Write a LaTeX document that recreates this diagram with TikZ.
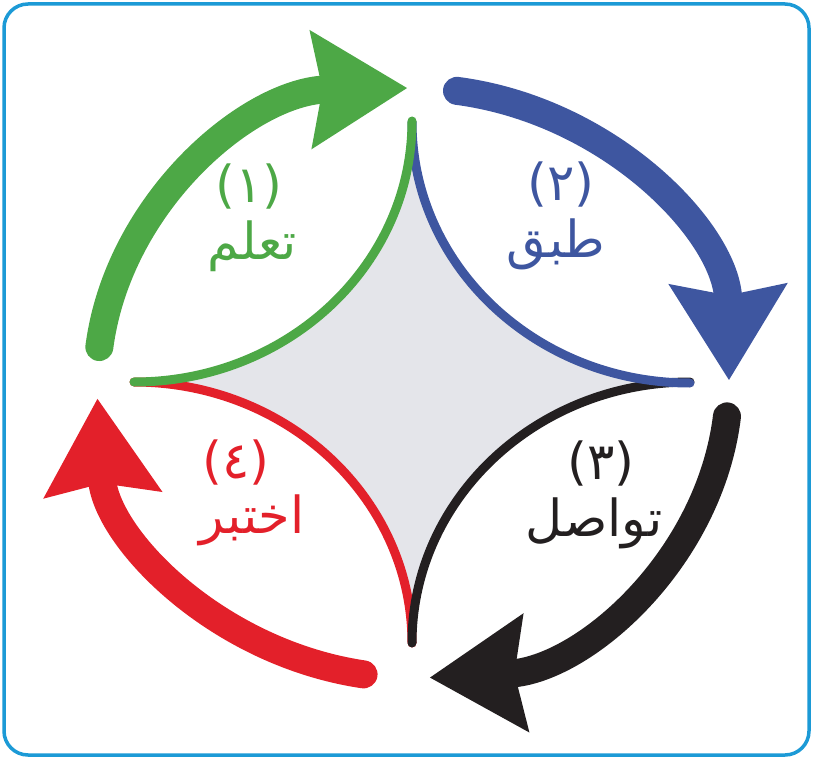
\documentclass[tikz,border=0pt]{standalone}
\usepackage{fontspec}
\newfontfamily\arabicfont[Script=Arabic]{DejaVu Sans}
\TeXXeTstate=1
\usepackage{tikz}
\usetikzlibrary{arrows.meta}
\definecolor{cgreen}{HTML}{4DA846}
\definecolor{cblue}{HTML}{3E56A0}
\definecolor{cblack}{HTML}{231F20}
\definecolor{cred}{HTML}{E3202A}
\definecolor{cframe}{HTML}{1C9AD6}
\definecolor{cpale}{HTML}{E4E5EA}

\begin{document}
\begin{tikzpicture}[x=1pt, y=-1pt,
    bigarrow/.style={line width=28pt, line cap=round, -{Stealth[length=95pt, width=114pt, inset=10pt]}},
    petal/.style={line width=9pt, line cap=round},
    steplabel/.style={inner sep=0pt, font=\arabicfont\fontsize{51}{58}\selectfont}]
  \useasboundingbox (0,0) rectangle (813,759);

  % Frame
  \draw[cframe, line width=3.5pt, rounded corners=24pt] (4,4) rectangle (809,755);

  % Grey star in the middle
  \fill[cpale] (412,122) arc[start angle=180, end angle=90, x radius=278, y radius=261]
    arc[start angle=270, end angle=180, x radius=278, y radius=261]
    arc[start angle=0, end angle=-90, x radius=278, y radius=261]
    arc[start angle=90, end angle=0, x radius=278, y radius=261] -- cycle;

  % Thin edges of the star
  \draw[petal, cred] (412,643) arc[start angle=0, end angle=-90, x radius=278, y radius=261];
  \draw[petal, cblack] (690,382) arc[start angle=270, end angle=180, x radius=278, y radius=261];
  \draw[petal, cblue] (412,122) arc[start angle=180, end angle=90, x radius=278, y radius=261];
  \draw[petal, cgreen] (134,382) arc[start angle=90, end angle=0, x radius=278, y radius=261];

  % Big arrows round the cycle
  \coordinate (ctr) at (413,383);
  \foreach \col/\a/\b in {cgreen/187/269, cblue/278/359.5, cblack/6.5/87, cred/99/177}{
    \draw[bigarrow, \col] (ctr) ++(\a:316 and 295)
      arc[start angle=\a, end angle=\b, x radius=316, y radius=295];
  }

  % Labels
  \node[steplabel, cgreen] (num1) at (249,187) {(١)};
  \node[steplabel, cgreen] (word1) at (252,246) {\beginR تعلم\endR};
  \node[steplabel, cblue] (num2) at (561,185) {(٢)};
  \node[steplabel, cblue] (word2) at (556,244) {\beginR طبق\endR};
  \node[steplabel, cblack] (num3) at (601,464) {(٣)};
  \node[steplabel, cblack] (word3) at (594,523) {\beginR تواصل\endR};
  \node[steplabel, cred] (num4) at (236,463) {(٤)};
  \node[steplabel, cred] (word4) at (252,520) {\beginR اختبر\endR};
\end{tikzpicture}
\end{document}
